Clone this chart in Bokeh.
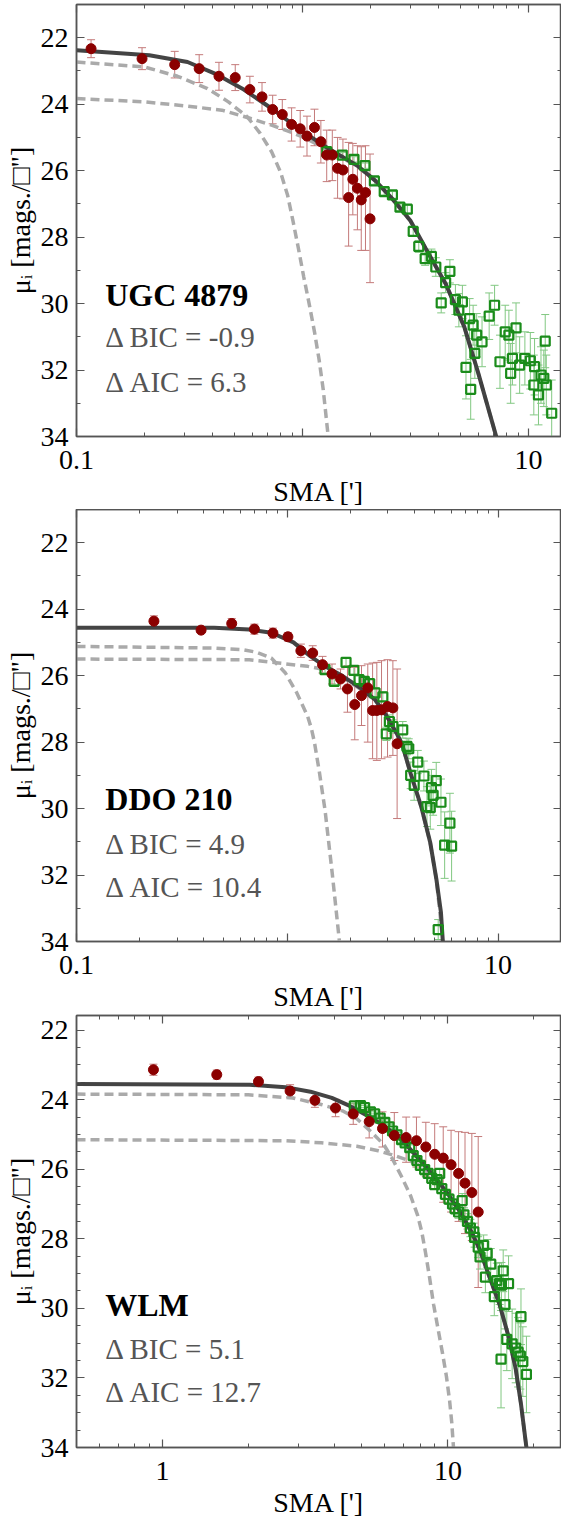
import numpy as np
from bokeh.plotting import figure
from bokeh.models import (Range1d, LogAxis, LinearAxis, FixedTicker, Whisker, TeeHead,
                          ColumnDataSource, CustomJSTickFormatter, Label)
from bokeh.layouts import column
from bokeh.embed import file_html
from bokeh.resources import INLINE

# ---------------- data: UGC 4879 ----------------
p1_red_x = [0.116, 0.195, 0.272, 0.349, 0.427, 0.504, 0.585, 0.662, 0.738, 0.814, 0.895, 0.977, 1.047,
            1.13, 1.206, 1.28, 1.355, 1.43, 1.51, 1.60, 1.67, 1.75, 1.82, 1.90, 1.99]
p1_red_y = [22.33, 22.63, 22.81, 22.93, 23.16, 23.20, 23.56, 23.78, 24.16, 24.31, 24.61, 24.74, 24.96,
            24.70, 25.13, 25.53, 25.53, 25.93, 25.98, 26.81, 26.26, 26.53, 26.88, 26.66, 27.45]
p1_red_top = [22.06, 22.30, 22.41, 22.51, 22.74, 22.81, 23.16, 23.35, 23.73, 23.86, 24.11, 24.19, 24.36,
              24.15, 24.49, 24.78, 24.78, 25.00, 25.05, 25.15, 25.18, 25.25, 25.28, 25.25, 25.50]
p1_red_bot = [22.60, 22.96, 23.21, 23.35, 23.58, 23.59, 23.96, 24.21, 24.59, 24.76, 25.11, 25.29, 25.56,
              25.25, 25.77, 26.33, 26.30, 26.83, 26.85, 28.27, 27.33, 27.78, 28.40, 28.40, 29.37]
p1_grn_x = [1.28, 1.50, 1.69, 1.89, 2.08, 2.30, 2.50, 2.70, 2.91, 3.09, 3.27, 3.49, 3.72, 3.89, 4.11,
            4.30, 4.49, 4.75, 4.92, 5.10, 5.29, 5.49, 5.55, 5.69, 5.79, 5.90, 6.23, 6.70, 7.08, 7.48,
            7.89, 8.19, 8.34, 8.49, 8.81, 9.14, 9.64, 10.19, 10.56, 10.64, 11.07, 11.36, 11.69, 11.86,
            11.99, 12.67]
p1_grn_y = [25.43, 25.53, 25.66, 25.85, 26.31, 26.63, 26.73, 27.10, 27.16, 27.83, 28.28, 28.65, 28.58,
            28.90, 29.98, 29.37, 29.03, 29.88, 30.20, 29.95, 31.92, 30.45, 32.58, 30.65, 31.50, 30.95,
            31.15, 30.38, 30.05, 31.75, 30.85, 30.95, 32.10, 31.65, 30.73, 31.85, 31.65, 31.72, 32.45,
            31.90, 32.75, 32.15, 32.25, 31.13, 32.45, 33.30]
p1_grn_err = [0.08, 0.08, 0.08, 0.08, 0.10, 0.10, 0.10, 0.10, 0.12, 0.15,
              0.18, 0.20, 0.22, 0.28, 0.30, 0.30, 0.35, 0.45, 0.50, 0.50,
              0.95, 0.60, 0.90, 0.60, 0.75, 0.65, 0.75, 0.70, 0.60, 0.80,
              0.80, 0.75, 0.90, 0.80, 0.75, 0.85, 0.80, 0.85, 0.90, 0.85,
              0.90, 0.85, 0.85, 0.80, 0.90, 1.00]
p1_fit_x = [0.1, 0.21, 0.31, 0.41, 0.55, 0.73, 0.98, 1.3, 1.75, 2.1, 2.5, 3.0, 3.5, 4.3, 5.2, 6.0, 7.2]
p1_fit_y = [22.38, 22.53, 22.73, 23.08, 23.56, 24.13, 24.78, 25.33, 25.85, 26.30, 26.85, 27.50, 28.33,
            29.40, 30.70, 32.10, 34.0]
p1_in_x = [0.1, 0.2, 0.28, 0.38, 0.47, 0.57, 0.65, 0.73, 0.80, 0.86, 0.91, 0.96, 1.013, 1.07, 1.13,
           1.185, 1.236, 1.297]
p1_in_y = [22.73, 22.88, 23.16, 23.53, 23.93, 24.38, 24.88, 25.43, 26.05, 26.75, 27.55, 28.35, 29.20,
           30.00, 30.85, 31.70, 32.60, 33.95]
p1_out_x = [0.1, 0.2, 0.31, 0.44, 0.59, 0.73, 0.84, 1.0, 1.3, 1.75, 2.1, 2.5, 3.0, 3.5, 4.3, 5.2, 6.0, 7.2]
p1_out_y = [23.83, 23.93, 24.06, 24.18, 24.43, 24.63, 24.78, 24.98, 25.38, 25.87, 26.31, 26.86, 27.51,
            28.34, 29.41, 30.71, 32.11, 34.0]

# ---------------- data: DDO 210 ----------------
p2_red_x = [0.233, 0.390, 0.545, 0.698, 0.855, 1.007, 1.16, 1.32, 1.47, 1.63, 1.79, 1.93, 2.09, 2.25,
            2.41, 2.54, 2.66, 2.80, 2.99, 3.17, 3.32]
p2_red_y = [24.36, 24.63, 24.43, 24.60, 24.72, 24.83, 25.25, 25.32, 25.67, 25.95, 26.10, 26.40, 26.87,
            26.60, 26.37, 27.05, 27.05, 27.03, 26.93, 26.97, 28.05]
p2_red_top = [24.20, 24.55, 24.28, 24.45, 24.57, 24.70, 25.05, 25.10, 25.42, 25.65, 25.80, 25.70, 25.75,
              25.70, 25.65, 25.62, 25.60, 25.55, 25.52, 25.55, 25.80]
p2_red_bot = [24.52, 24.71, 24.58, 24.75, 24.87, 24.96, 25.45, 25.54, 25.92, 26.25, 26.40, 27.10, 27.93,
              27.50, 28.00, 28.50, 28.55, 28.50, 28.45, 28.40, 30.30]
p2_grn_x = [1.51, 1.67, 1.90, 2.07, 2.19, 2.32, 2.46, 2.61, 2.84, 2.95, 3.05, 3.17, 3.53, 3.70, 3.77,
            3.85, 4.00, 4.16, 4.45, 4.60, 4.77, 4.83, 4.92, 5.09, 5.20, 5.36, 5.58, 5.91, 6.02]
p2_grn_y = [25.82, 26.17, 25.60, 25.84, 26.12, 26.17, 26.24, 26.52, 26.64, 27.75, 27.38, 27.53, 27.63,
            28.13, 28.20, 29.00, 29.30, 28.60, 29.02, 29.94, 29.97, 29.37, 29.60, 29.16, 33.64, 29.81,
            31.10, 30.44, 31.13]
p2_grn_err = [0.10, 0.10, 0.12, 0.12, 0.12, 0.12, 0.15, 0.15, 0.15, 0.20,
              0.20, 0.20, 0.25, 0.25, 0.30, 0.40, 0.45, 0.35, 0.45, 0.60,
              0.65, 0.55, 0.60, 0.55, 0.30, 0.70, 1.00, 0.90, 1.05]
p2_fit_x = [0.1, 0.45, 0.66, 0.84, 1.07, 1.29, 1.51, 1.84, 2.22, 2.61, 2.94, 3.3, 3.5, 3.85, 4.32,
            4.77, 5.1, 5.36, 5.47]
p2_fit_y = [24.56, 24.56, 24.61, 24.71, 25.00, 25.42, 25.72, 26.02, 26.37, 26.72, 27.18, 27.73, 28.05,
            28.95, 29.94, 31.03, 32.13, 33.13, 34.0]
p2_in_x = [0.1, 0.45, 0.62, 0.72, 0.84, 0.98, 1.11, 1.25, 1.30, 1.345, 1.42, 1.51, 1.633, 1.766]
p2_in_y = [25.12, 25.17, 25.22, 25.30, 25.47, 25.92, 26.52, 27.23, 27.58, 28.00, 28.90, 30.04, 31.93, 33.97]
p2_out_x = [0.1, 0.66, 0.91, 1.25, 1.46, 1.84, 2.22, 2.61, 2.94, 3.3, 3.5, 3.85, 4.32, 4.77, 5.1, 5.47]
p2_out_y = [25.50, 25.52, 25.62, 25.72, 25.80, 26.06, 26.40, 26.75, 27.20, 27.75, 28.06, 28.96, 29.95,
            31.04, 32.14, 34.0]

# ---------------- data: WLM ----------------
p3_red_x = [0.93, 1.55, 2.17, 2.80, 3.42, 4.04, 4.66, 5.30, 5.90, 6.49, 7.14, 7.76, 8.37, 8.99, 9.63,
            10.26, 10.90, 11.48, 12.13, 12.77]
p3_red_y = [23.14, 23.28, 23.48, 23.75, 24.02, 24.24, 24.41, 24.63, 24.83, 25.03, 25.09, 25.18, 25.36,
            25.57, 25.68, 25.87, 26.12, 26.40, 26.67, 27.23]
p3_red_top = [22.98, 23.15, 23.35, 23.57, 23.82, 23.99, 24.11, 24.31, 24.35, 24.37, 24.50, 24.50, 24.65,
              24.69, 24.78, 24.88, 24.92, 24.94, 24.97, 25.06]
p3_red_bot = [23.30, 23.41, 23.61, 23.93, 24.22, 24.49, 24.71, 25.10, 25.36, 25.75, 25.80, 25.94, 26.20,
              26.58, 26.95, 27.23, 27.50, 27.85, 28.05, 29.40]
p3_grn_x = [4.70, 4.94, 5.11, 5.35, 5.54, 5.79, 6.01, 6.22, 6.40, 6.63,
            6.88, 7.08, 7.35, 7.56, 7.79, 8.01, 8.29, 8.53, 8.78, 8.99,
            9.17, 9.36, 9.52, 9.80, 10.09, 10.38, 10.59, 10.90, 11.22, 11.38,
            11.71, 11.99, 12.33, 12.40, 12.77, 12.96, 13.34, 13.53, 13.73, 14.13,
            14.54, 14.83, 15.17, 15.35, 15.40, 15.62, 15.85, 16.08, 16.31, 16.79,
            17.28, 17.62, 17.94, 18.03, 18.30, 18.84]
p3_grn_y = [24.18, 24.17, 24.23, 24.35, 24.41, 24.53, 24.65, 24.78, 24.90, 25.01,
            25.15, 25.24, 25.38, 25.61, 25.75, 25.89, 26.01, 26.12, 26.26, 26.44,
            26.30, 26.12, 26.56, 26.72, 26.86, 27.00, 27.13, 27.23, 26.90, 27.31,
            27.50, 27.69, 27.80, 27.96, 28.24, 28.52, 28.19, 29.10, 28.42, 28.73,
            29.66, 29.20, 29.29, 31.46, 29.33, 28.92, 29.89, 30.89, 29.29, 31.02,
            31.14, 31.26, 31.37, 30.24, 31.53, 31.90]
p3_grn_err = [0.06, 0.06, 0.06, 0.06, 0.06, 0.06, 0.07, 0.07, 0.07, 0.07,
              0.08, 0.08, 0.08, 0.10, 0.10, 0.10, 0.10, 0.12, 0.12, 0.12,
              0.12, 0.12, 0.14, 0.14, 0.15, 0.15, 0.16, 0.18, 0.20, 0.20,
              0.22, 0.25, 0.25, 0.28, 0.30, 0.35, 0.30, 0.45, 0.40, 0.45,
              0.55, 0.50, 0.60, 1.40, 0.65, 0.60, 0.70, 0.90, 0.80, 1.00,
              1.00, 1.00, 0.95, 0.80, 1.00, 1.10]
p3_fit_x = [0.5, 2.02, 2.7, 3.3, 3.92, 4.53, 5.23, 6.04, 6.97, 7.83, 8.78, 9.85, 11.05, 12.06, 12.96,
            13.93, 15.17, 16.31, 17.28, 18.03, 18.84]
p3_fit_y = [23.55, 23.57, 23.64, 23.77, 23.95, 24.18, 24.46, 24.78, 25.20, 25.66, 26.12, 26.63, 27.23,
            27.78, 28.33, 29.06, 29.89, 30.81, 31.74, 32.75, 34.0]
p3_in_x = [0.5, 2.0, 2.86, 3.6, 4.27, 4.8, 5.38, 5.96, 6.4, 6.88, 7.4, 7.83, 8.1, 8.35, 8.62, 8.91,
           9.24, 9.58, 9.88, 10.14, 10.32, 10.46]
p3_in_y = [23.84, 23.86, 23.95, 24.14, 24.32, 24.55, 24.92, 25.29, 25.71, 26.21, 26.76, 27.32, 27.80,
           28.40, 29.10, 29.89, 30.60, 31.30, 31.95, 32.66, 33.30, 34.0]
p3_out_x = [0.5, 2.7, 3.6, 4.8, 5.7, 6.4, 7.2, 7.83, 8.29, 8.78, 9.85, 11.05, 12.06, 12.96, 13.93,
            15.17, 16.31, 17.28, 18.03, 18.84]
p3_out_y = [25.15, 25.18, 25.24, 25.34, 25.47, 25.59, 25.73, 25.86, 26.02, 26.16, 26.66, 27.26, 27.80,
            28.35, 29.08, 29.90, 30.82, 31.75, 32.76, 34.0]

# ---------------- labels ----------------
names = ["UGC 4879", "DDO 210", "WLM"]
bic_text = ["\u0394 BIC = -0.9", "\u0394 BIC = 4.9", "\u0394 BIC = 5.1"]
aic_text = ["\u0394 AIC = 6.3", "\u0394 AIC = 10.4", "\u0394 AIC = 12.7"]
x_title = "SMA [']"
y_title = "\u03bc\u1d62 [mags./\u25a1\"]"

FONT = "Liberation Serif"
AXC = "#555555"
RED = "#8b0000"
RED_ERR = "#c47a7a"
GRN = "#1a8c1a"
GRN_ERR = "#82c882"
FIT = "#3a3a3a"
COMP = "#aaaaaa"


def style_axis(ax, show_labels):
    ax.major_tick_in = 8
    ax.major_tick_out = 0
    ax.minor_tick_in = 4
    ax.minor_tick_out = 0
    ax.axis_line_color = AXC
    ax.axis_line_width = 1.5
    ax.major_tick_line_color = AXC
    ax.minor_tick_line_color = AXC
    ax.major_tick_line_width = 1.2
    ax.minor_tick_line_width = 1.0
    ax.major_label_text_font = FONT
    if show_labels:
        ax.major_label_text_color = "black"
        ax.major_label_text_font_size = "28px"
        ax.major_label_standoff = 8
    else:
        ax.major_label_text_color = None
        ax.major_label_text_font_size = "1px"
        ax.major_label_standoff = 0
        ax.formatter = CustomJSTickFormatter(code="return '';")


def add_err(p, x, lo, hi, color):
    src = ColumnDataSource(dict(x=x, lo=lo, hi=hi))
    w = Whisker(source=src, base="x", lower="lo", upper="hi", dimension="height",
                line_color=color, line_width=1,
                upper_head=TeeHead(size=8, line_color=color, line_width=1),
                lower_head=TeeHead(size=8, line_color=color, line_width=1))
    p.add_layout(w)


def panel(height, top_border, xr, yr, xmaj, xmin, hide, ymaj, ymin, fit, comp1, comp2, red, grn,
          texts, text_x, text_y):
    p = figure(width=561, height=height, x_axis_type="log",
               x_range=Range1d(*xr), y_range=Range1d(yr[1], yr[0]),
               output_backend="svg", toolbar_location=None,
               min_border_left=76, min_border_right=0, min_border_top=top_border,
               min_border_bottom=0)
    p.xgrid.visible = False
    p.ygrid.visible = False
    p.outline_line_color = AXC
    p.outline_line_width = 1.5
    p.background_fill_color = "white"
    p.border_fill_color = "white"

    xa = p.xaxis[0]
    xa.ticker = FixedTicker(ticks=xmaj, minor_ticks=xmin)
    xa.formatter = CustomJSTickFormatter(args=dict(hide=hide),
                                         code="return hide.indexOf(tick) >= 0 ? '' : String(tick);")
    style_axis(xa, True)
    xa.major_label_standoff = 14
    xa.axis_label = x_title
    xa.axis_label_text_font = FONT
    xa.axis_label_text_font_style = "normal"
    xa.axis_label_text_font_size = "28px"
    xa.axis_label_text_color = "black"
    xa.axis_label_standoff = 4

    ya = p.yaxis[0]
    ya.ticker = FixedTicker(ticks=ymaj, minor_ticks=ymin)
    style_axis(ya, True)
    ya.axis_label = y_title
    ya.axis_label_text_font = FONT
    ya.axis_label_text_font_style = "normal"
    ya.axis_label_text_font_size = "28px"
    ya.axis_label_text_color = "black"
    ya.axis_label_standoff = 2

    top = LogAxis(ticker=FixedTicker(ticks=xmaj, minor_ticks=xmin))
    style_axis(top, False)
    p.add_layout(top, "above")
    right = LinearAxis(ticker=FixedTicker(ticks=ymaj, minor_ticks=ymin))
    style_axis(right, False)
    p.add_layout(right, "right")

    # model components
    p.line(comp1[0], comp1[1], line_color=COMP, line_width=3.5, line_dash="9 5")
    p.line(comp2[0], comp2[1], line_color=COMP, line_width=3.5, line_dash="9 5")

    # error bars
    add_err(p, red[0], red[2], red[3], RED_ERR)
    gy = np.array(grn[1])
    ge = np.array(grn[2])
    add_err(p, grn[0], list(gy - ge), list(gy + ge), GRN_ERR)

    # total model
    p.line(fit[0], fit[1], line_color=FIT, line_width=4, line_alpha=0.95)

    # data points
    p.scatter(grn[0], grn[1], marker="square", size=9, fill_color=None,
              line_color=GRN, line_width=2.2)
    p.scatter(red[0], red[1], marker="circle", size=10, fill_color=RED, line_color=RED)

    # annotations
    p.add_layout(Label(x=text_x, y=text_y[0], text=texts[0], text_font=FONT, text_font_style="bold",
                       text_font_size="32px", text_color="black", text_baseline="alphabetic"))
    p.add_layout(Label(x=text_x, y=text_y[1], text=texts[1], text_font=FONT,
                       text_font_size="29px", text_color="#555555", text_baseline="alphabetic"))
    p.add_layout(Label(x=text_x, y=text_y[2], text=texts[2], text_font=FONT,
                       text_font_size="29px", text_color="#555555", text_baseline="alphabetic"))
    return p


minor_01 = [0.2, 0.3, 0.4, 0.5, 0.6, 0.7, 0.8, 0.9, 2, 3, 4, 5, 6, 7, 8, 9, 20]
minor_05 = [0.6, 0.7, 0.8, 0.9, 2, 3, 4, 5, 6, 7, 8, 9, 20]
ymaj = [22, 24, 26, 28, 30, 32, 34]
ymin_1 = [21, 23, 25, 27, 29, 31, 33]
ymin_05 = [v / 2 for v in range(44, 69) if v % 4 != 0]

p1 = panel(509, 4, (0.1, 14.0), (21, 34), [0.1, 1, 10], minor_01, [1], ymaj, ymin_1,
           (p1_fit_x, p1_fit_y), (p1_in_x, p1_in_y), (p1_out_x, p1_out_y),
           (p1_red_x, p1_red_y, p1_red_top, p1_red_bot), (p1_grn_x, p1_grn_y, p1_grn_err),
           [names[0], bic_text[0], aic_text[0]], 0.134, [29.75, 31.01, 32.37])
p2 = panel(505, 0, (0.1, 20.0), (21, 34), [0.1, 1, 10], minor_01, [1], ymaj, ymin_1,
           (p2_fit_x, p2_fit_y), (p2_in_x, p2_in_y), (p2_out_x, p2_out_y),
           (p2_red_x, p2_red_y, p2_red_top, p2_red_bot), (p2_grn_x, p2_grn_y, p2_grn_err),
           [names[1], bic_text[1], aic_text[1]], 0.137, [29.71, 31.06, 32.35])
p3 = panel(506, 1, (0.5, 25.0), (21.58, 34), [1, 10], minor_05, [], ymaj, ymin_05,
           (p3_fit_x, p3_fit_y), (p3_in_x, p3_in_y), (p3_out_x, p3_out_y),
           (p3_red_x, p3_red_y, p3_red_top, p3_red_bot), (p3_grn_x, p3_grn_y, p3_grn_err),
           [names[2], bic_text[2], aic_text[2]], 0.63, [29.90, 31.16, 32.40])

layout = column(p1, p2, p3)
open("out.html", "w").write(file_html(layout, INLINE))
